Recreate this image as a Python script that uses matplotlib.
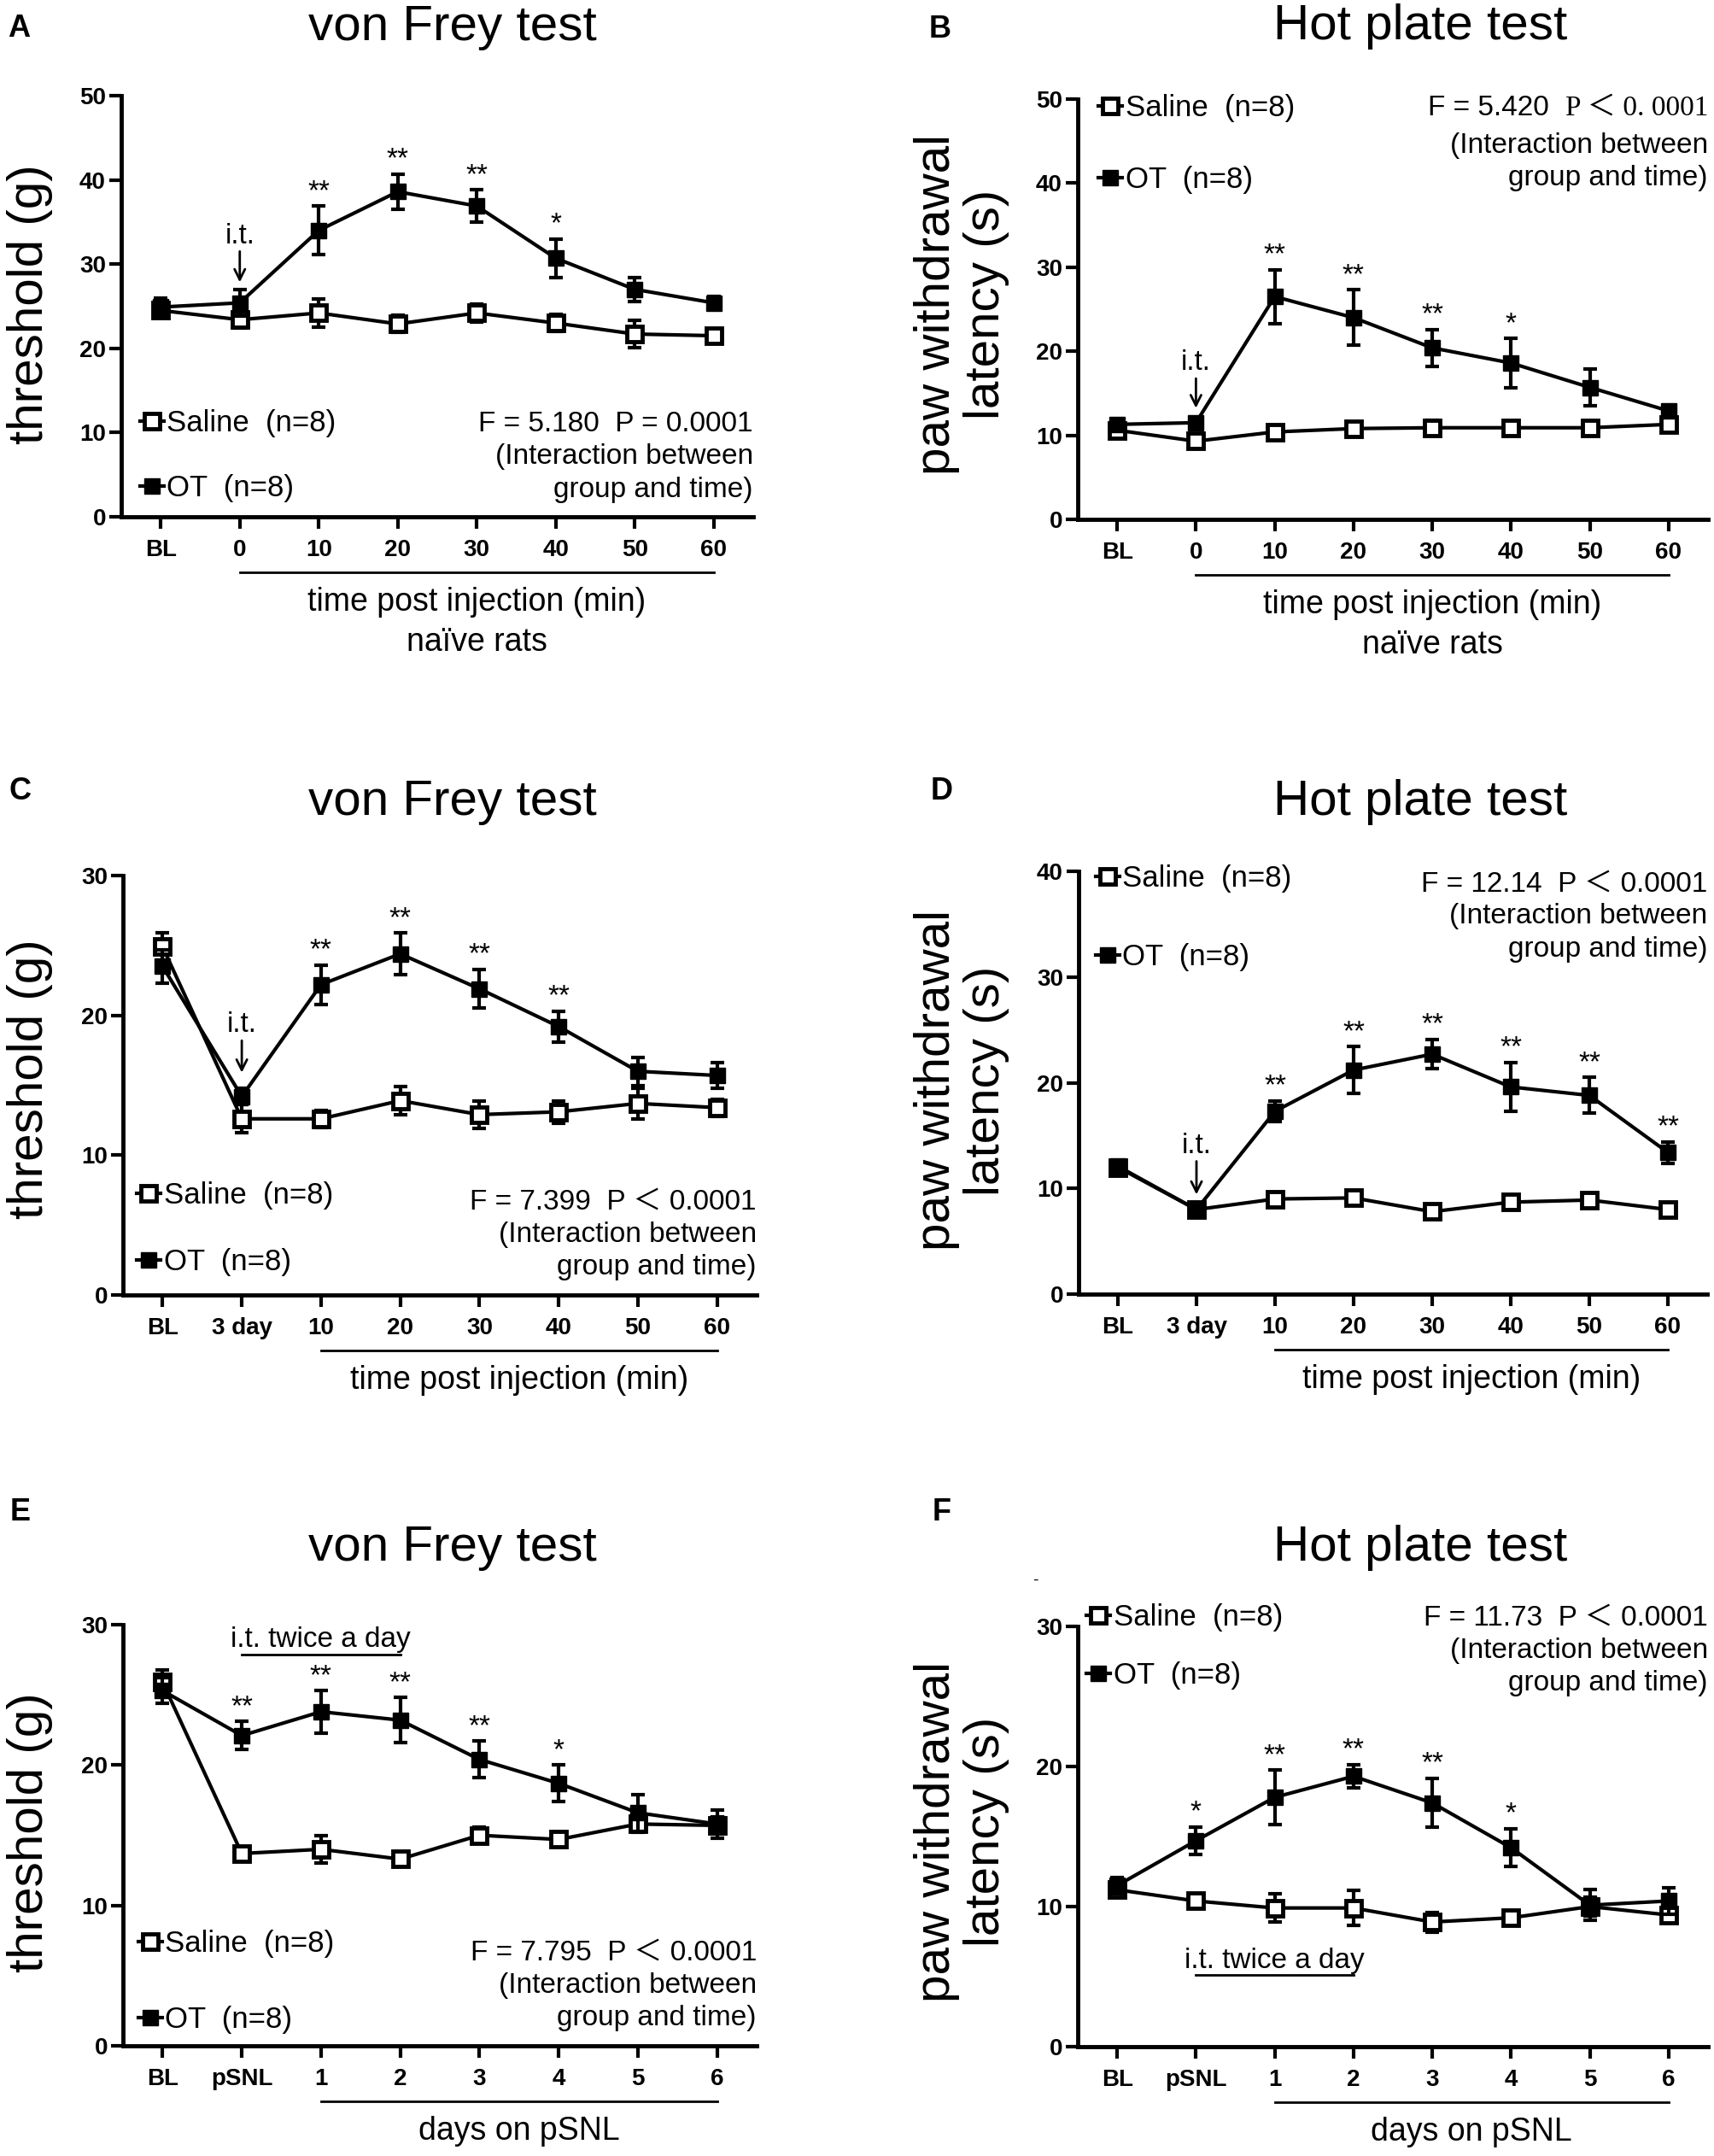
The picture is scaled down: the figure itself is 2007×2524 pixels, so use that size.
import numpy as np
import matplotlib
matplotlib.use("Agg")
import matplotlib.pyplot as plt
from matplotlib.transforms import blended_transform_factory

plt.rcParams['font.family'] = ['Liberation Sans', 'Noto Sans CJK SC', 'DejaVu Sans']

# ---- data ----
naive_ticks = ['BL', '0', '10', '20', '30', '40', '50', '60']
snl3_ticks = ['BL', '3 day', '10', '20', '30', '40', '50', '60']
psnl_ticks = ['BL', 'pSNL', '1', '2', '3', '4', '5', '6']

A_sal = [24.5, 23.4, 24.2, 22.9, 24.2, 23.0, 21.7, 21.5]
A_sal_err = [0.9, 1.0, 1.7, 1.0, 1.1, 1.0, 1.6, 0.5]
A_ot = [24.9, 25.4, 34.0, 38.6, 36.9, 30.7, 27.0, 25.4]
A_ot_err = [1.1, 1.6, 2.9, 2.1, 1.9, 2.3, 1.4, 0.8]
A_stars = ['', '', '**', '**', '**', '*', '', '']

B_sal = [10.6, 9.3, 10.4, 10.8, 10.9, 10.9, 10.9, 11.3]
B_sal_err = [0.5, 0.5, 0.5, 0.4, 0.9, 0.5, 0.4, 0.6]
B_ot = [11.3, 11.5, 26.5, 24.0, 20.4, 18.6, 15.7, 12.9]
B_ot_err = [0.6, 0.6, 3.2, 3.3, 2.2, 2.9, 2.2, 0.5]
B_stars = ['', '', '**', '**', '**', '*', '', '']

C_sal = [24.9, 12.6, 12.6, 13.9, 12.9, 13.1, 13.7, 13.4]
C_sal_err = [1.0, 1.0, 0.6, 1.0, 1.0, 0.8, 1.1, 0.6]
C_ot = [23.5, 14.2, 22.2, 24.4, 21.9, 19.2, 16.0, 15.7]
C_ot_err = [1.2, 0.6, 1.4, 1.5, 1.4, 1.1, 1.0, 0.9]
C_stars = ['', '', '**', '**', '**', '**', '', '']

D_sal = [12.0, 8.0, 9.0, 9.1, 7.8, 8.7, 8.9, 8.0]
D_sal_err = [0.4, 0.3, 0.5, 0.5, 0.4, 0.5, 0.5, 0.4]
D_ot = [12.1, 8.0, 17.3, 21.2, 22.7, 19.6, 18.8, 13.4]
D_ot_err = [0.4, 0.3, 1.0, 2.2, 1.4, 2.3, 1.7, 1.0]
D_stars = ['', '', '**', '**', '**', '**', '**', '**']

E_sal = [25.9, 13.7, 14.0, 13.3, 15.0, 14.7, 15.8, 15.7]
E_sal_err = [0.9, 0.4, 1.0, 0.5, 0.6, 0.5, 0.6, 0.6]
E_ot = [25.3, 22.1, 23.8, 23.2, 20.4, 18.7, 16.6, 15.8]
E_ot_err = [0.9, 1.0, 1.5, 1.6, 1.3, 1.3, 1.3, 1.0]
E_stars = ['', '**', '**', '**', '**', '*', '', '']

F_sal = [11.2, 10.4, 9.9, 9.9, 8.9, 9.2, 10.0, 9.4]
F_sal_err = [0.5, 0.5, 1.0, 1.25, 0.7, 0.4, 0.7, 0.5]
F_ot = [11.5, 14.7, 17.8, 19.3, 17.4, 14.2, 10.1, 10.4]
F_ot_err = [0.6, 1.0, 1.95, 0.85, 1.75, 1.35, 1.1, 0.95]
F_stars = ['', '*', '**', '**', '**', '*', '', '']

stats = ['F = 5.180  P = 0.0001', 'F = 5.420  ', 'F = 7.399  P \uff1c 0.0001',
         'F = 12.14  P \uff1c 0.0001', 'F = 7.795  P \uff1c 0.0001', 'F = 11.73  P \uff1c 0.0001']

W, H = 2007, 2524
fig = plt.figure(figsize=(W / 100, H / 100), dpi=100)


def add_ax(l, r, t, b):
    return fig.add_axes([l / W, 1 - b / H, (r - l) / W, (b - t) / H])


def draw(ax, sal, sal_err, ot, ot_err, stars, ymax, ticks):
    x = np.arange(len(ticks))
    ax.errorbar(x, sal, yerr=sal_err, fmt='none', ecolor='k', elinewidth=3,
                capsize=6, capthick=3, zorder=2)
    ax.plot(x, sal, '-s', color='k', lw=3, ms=13, mfc='white', mec='k', mew=3.5,
            label='Saline  (n=8)', zorder=3)
    ax.errorbar(x, ot, yerr=ot_err, fmt='none', ecolor='k', elinewidth=3,
                capsize=6, capthick=3, zorder=4)
    ax.plot(x, ot, '-s', color='k', lw=3, ms=13, label='OT  (n=8)', zorder=5)
    for xi, yi, ei, s in zip(x, ot, ot_err, stars):
        if s:
            ax.annotate(s, xy=(xi, yi + ei), xytext=(0, 6), textcoords='offset points',
                        ha='center', va='baseline', fontsize=24)
    ax.set_xlim(-0.5, 7.5)
    ax.set_ylim(0, ymax)
    ax.set_xticks(x)
    ax.set_xticklabels(ticks, fontsize=20, fontweight='bold')
    ax.set_yticks(np.arange(0, ymax + 1, 10))
    ax.set_yticklabels([str(v) for v in range(0, ymax + 1, 10)], fontsize=20, fontweight='bold')
    ax.tick_params(axis='x', length=10, width=3, pad=9)
    ax.tick_params(axis='y', length=10, width=3, pad=3)
    for s in ['top', 'right']:
        ax.spines[s].set_visible(False)
    for s in ['left', 'bottom']:
        ax.spines[s].set_linewidth(3.5)


def x_group(ax, x0, x1, lines):
    h_px = ax.get_position().height * H
    tr = blended_transform_factory(ax.transData, ax.transAxes)
    ax.plot([x0, x1], [-65 / h_px, -65 / h_px], color='k', lw=2, transform=tr, clip_on=False)
    for i, txt in enumerate(lines):
        ax.text((x0 + x1) / 2, (-100 - 47 * i) / h_px, txt, transform=tr,
                ha='center', va='center', fontsize=27)


def legend(ax, x, y, spacing, loc):
    ax.legend(loc=loc, bbox_to_anchor=(x, y), frameon=False, fontsize=25,
              handlelength=0.8, handletextpad=0.1, borderpad=0, borderaxespad=0,
              labelspacing=spacing)


def stat_block(ax, y, line1):
    ax.text(1.0, y, line1 + '\n(Interaction between\ngroup and time)', transform=ax.transAxes,
            ha='right', va='center', multialignment='right', fontsize=24, linespacing=1.3)


def it_arrow(ax, idx, ot, ot_err, dy, shrink):
    ax.annotate('i.t.', xy=(idx, ot[idx] + ot_err[idx]), xytext=(0, dy),
                textcoords='offset points', ha='center', va='bottom', fontsize=24,
                arrowprops=dict(arrowstyle='->', color='k', lw=2, shrinkA=0,
                                shrinkB=shrink, mutation_scale=22))


def twice_bar(ax, y):
    ax.plot([1, 3], [y, y], color='k', lw=2, clip_on=False)
    ax.annotate('i.t. twice a day', xy=(2, y), xytext=(0, 6), textcoords='offset points',
                ha='center', va='baseline', fontsize=24)


# ---- panel A ----
axA = add_ax(142, 882, 112, 605)
draw(axA, A_sal, A_sal_err, A_ot, A_ot_err, A_stars, 50, naive_ticks)
x_group(axA, 1, 7, ['time post injection (min)', 'na\u00efve rats'])
legend(axA, 0.03, 0.145, 1.25, 'center left')
stat_block(axA, 0.142, stats[0])
it_arrow(axA, 1, A_ot, A_ot_err, 34, 6)

# ---- panel B ----
axB = add_ax(1262, 2000, 116, 608)
draw(axB, B_sal, B_sal_err, B_ot, B_ot_err, B_stars, 50, naive_ticks)
x_group(axB, 1, 7, ['time post injection (min)', 'na\u00efve rats'])
legend(axB, 0.033, 0.893, 1.45, 'center left')
tp = axB.text(1.0, 0.978, 'P \uff1c 0. 0001', transform=axB.transAxes, ha='right', va='center',
              fontsize=24, family=['Liberation Serif', 'Noto Sans CJK SC'])
axB.annotate(stats[1], xy=(0, 0.5), xycoords=tp, ha='right', va='center', fontsize=24)
axB.text(1.0, 0.851, '(Interaction between\ngroup and time)', transform=axB.transAxes,
         ha='right', va='center', multialignment='right', fontsize=24, linespacing=1.3)
it_arrow(axB, 1, B_ot, B_ot_err, 35, 8)

# ---- panel C ----
axC = add_ax(144, 886, 1025, 1516)
draw(axC, C_sal, C_sal_err, C_ot, C_ot_err, C_stars, 30, snl3_ticks)
x_group(axC, 2, 7, ['time post injection (min)'])
legend(axC, 0.022, 0.157, 1.3, 'center left')
stat_block(axC, 0.143, stats[2])
it_arrow(axC, 1, C_ot, C_ot_err, 42, 13)

# ---- panel D ----
axD = add_ax(1263, 1999, 1020, 1515)
draw(axD, D_sal, D_sal_err, D_ot, D_ot_err, D_stars, 40, snl3_ticks)
x_group(axD, 2, 7, ['time post injection (min)'])
legend(axD, 0.027, 0.89, 1.7, 'center left')
stat_block(axD, 0.893, stats[3])
it_arrow(axD, 1, D_ot, D_ot_err, 40, 10)

# ---- panel E ----
axE = add_ax(144, 886, 1902, 2395)
draw(axE, E_sal, E_sal_err, E_ot, E_ot_err, E_stars, 30, psnl_ticks)
x_group(axE, 2, 7, ['days on pSNL'])
legend(axE, 0.024, 0.152, 1.6, 'center left')
stat_block(axE, 0.143, stats[4])
twice_bar(axE, 27.9)

# ---- panel F ----
axF = add_ax(1262, 2000, 1904, 2396)
draw(axF, F_sal, F_sal_err, F_ot, F_ot_err, F_stars, 30, psnl_ticks)
x_group(axF, 2, 7, ['days on pSNL'])
legend(axF, 0.014, 0.952, 1.0, 'center left')
stat_block(axF, 0.943, stats[5])
twice_bar(axF, 5.1)

# ---- titles, panel letters, y labels ----
for x, y, t in [(530, 47, 'von Frey test'), (1663, 46, 'Hot plate test'),
                (530, 954, 'von Frey test'), (1663, 954, 'Hot plate test'),
                (530, 1827, 'von Frey test'), (1663, 1827, 'Hot plate test')]:
    fig.text(x / W, 1 - y / H, t, ha='center', va='baseline', fontsize=42)

for x, y, t in [(22, 43, 'A'), (1101, 44, 'B'), (24, 936, 'C'), (1103, 936, 'D'),
                (24, 1780, 'E'), (1103, 1780, 'F')]:
    fig.text(x / W, 1 - y / H, t, ha='center', va='baseline', fontsize=26, fontweight='bold')

for x, y, t in [(35, 356, 'threshold (g)'), (1126, 356, 'paw withdrawal\nlatency (s)'),
                (35, 1263, 'threshold (g)'), (1126, 1265, 'paw withdrawal\nlatency (s)'),
                (35, 2145, 'threshold (g)'), (1126, 2144, 'paw withdrawal\nlatency (s)')]:
    fig.text(x / W, 1 - y / H, t, rotation=90, ha='center', va='center',
             multialignment='center', fontsize=42, linespacing=1.1)

fig.text(1212 / W, 1 - 1850 / H, '-', ha='center', va='center', fontsize=14)

fig.savefig('out.png', dpi=100)
